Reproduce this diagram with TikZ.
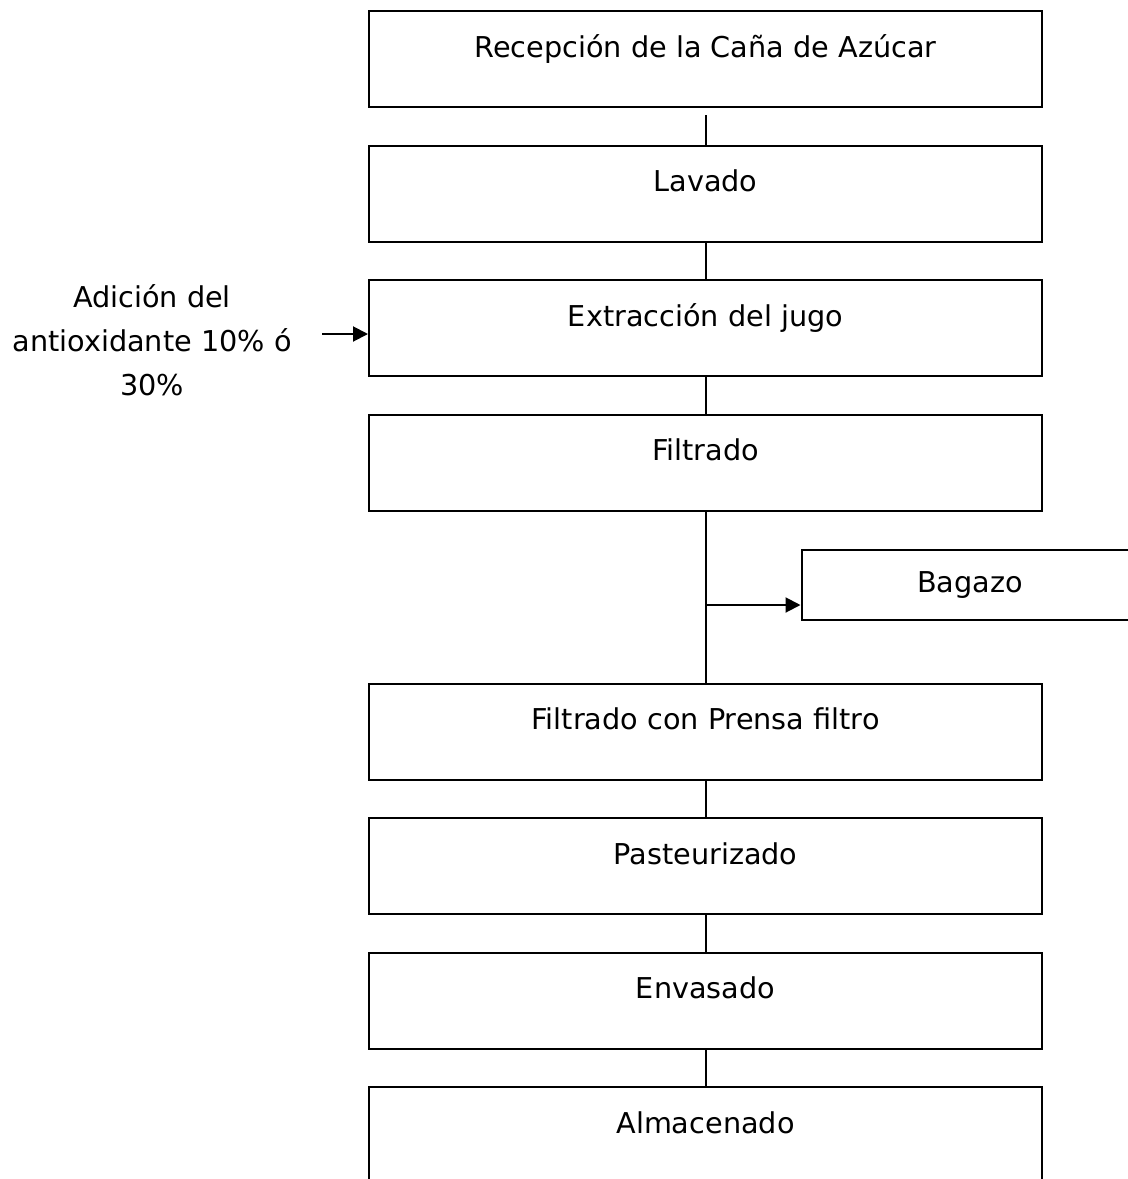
\documentclass[tikz,border=0pt]{standalone}
\usepackage{fontspec}
\setmainfont{DejaVu Sans}
\usetikzlibrary{arrows.meta}
\tikzset{
  paso/.style={draw, line width=1pt, minimum width=336.5pt, inner xsep=0pt, inner ysep=0pt,
    text height=23pt, text depth=25pt, font=\fontsize{14.35}{22}\selectfont},
  residuo/.style={draw, line width=1pt, minimum width=168.5pt, minimum height=35pt, inner sep=0pt,
    font=\fontsize{14.35}{22}\selectfont},
  flecha/.style={line width=1pt, -{Triangle[length=7.5pt,width=7.5pt]}},
  linea/.style={line width=1pt}
}
\begin{document}
\begin{tikzpicture}[x=0.5pt,y=-0.5pt]
\useasboundingbox (0,0) rectangle (1128,1179);
\clip (0,0) rectangle (1128,1179);
\node[paso] (rec) at (705.5,59) {Recepción de la Caña de Azúcar};
\node[paso] (lav) at (705.5,193.5) {Lavado};
\node[paso] (ext) at (705.5,328) {Extracción del jugo};
\node[paso] (fil) at (705.5,462.5) {Filtrado};
\node[paso] (pre) at (705.5,731.5) {Filtrado con Prensa filtro};
\node[paso] (pas) at (705.5,866) {Pasteurizado};
\node[paso] (env) at (705.5,1000.5) {Envasado};
\node[paso] (alm) at (705.5,1135) {Almacenado};
\node[residuo] (bag) at (970,585) {Bagazo};
\node[align=center, font=\fontsize{14.35}{22}\selectfont] (add) at (152,340)
  {Adición del\\antioxidante 10\% ó\\30\%};
\coordinate (sal) at (705.5,605);
\coordinate (ent) at (322,334);
% conectores
\draw[linea, shorten <=3.5pt] (rec) -- (lav);
\draw[linea] (lav) -- (ext);
\draw[linea] (ext) -- (fil);
\draw[linea] (fil) -- (pre);
\draw[linea] (pre) -- (pas);
\draw[linea] (pas) -- (env);
\draw[linea] (env) -- (alm);
\draw[flecha] (sal) -- (sal -| bag.west);
\draw[flecha] (ent) -- (ent -| ext.west);
\end{tikzpicture}
\end{document}
